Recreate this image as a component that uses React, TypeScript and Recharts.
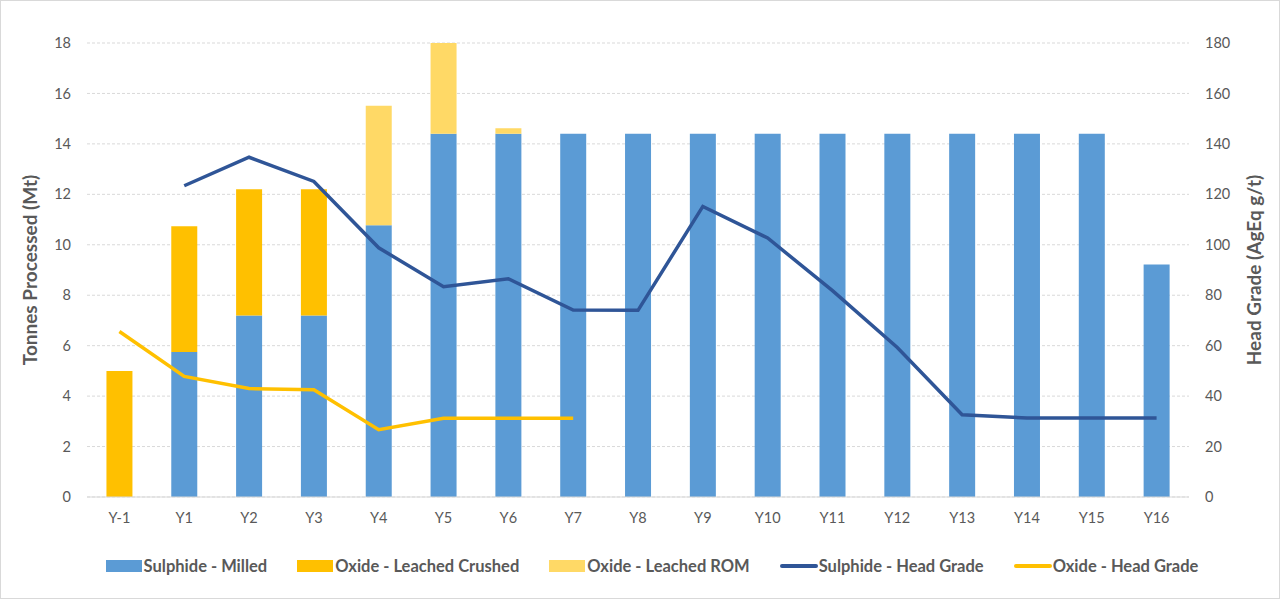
import React from "react";
import {
  ComposedChart,
  Bar,
  Line,
  XAxis,
  YAxis,
  CartesianGrid,
  Legend,
} from "recharts";

const years = ["Y-1", "Y1", "Y2", "Y3", "Y4", "Y5", "Y6", "Y7", "Y8", "Y9", "Y10", "Y11", "Y12", "Y13", "Y14", "Y15", "Y16"];
const sulphideMilled = [0, 5.75, 7.2, 7.2, 10.77, 14.4, 14.4, 14.4, 14.4, 14.4, 14.4, 14.4, 14.4, 14.4, 14.4, 14.4, 9.22];
const oxideCrushed = [5.0, 4.98, 5.0, 5.0, 0, 0, 0, 0, 0, 0, 0, 0, 0, 0, 0, 0, 0];
const oxideROM = [0, 0, 0, 0, 4.74, 3.6, 0.22, 0, 0, 0, 0, 0, 0, 0, 0, 0, 0];
const sulphideGrade = [null, 123.4, 134.7, 125.1, 98.8, 83.4, 86.5, 74.1, 74.0, 115.2, 102.7, 81.8, 59.3, 32.6, 31.3, 31.3, 31.3];
const oxideGrade = [65.6, 47.8, 43.0, 42.5, 26.7, 31.2, 31.2, 31.2, null, null, null, null, null, null, null, null, null];
const leftTicks = [0, 2, 4, 6, 8, 10, 12, 14, 16, 18];
const rightTicks = [0, 20, 40, 60, 80, 100, 120, 140, 160, 180];

const data = years.map((y, i) => ({
  year: y,
  sulphide: sulphideMilled[i],
  crushed: oxideCrushed[i],
  rom: oxideROM[i],
  sGrade: sulphideGrade[i],
  oGrade: oxideGrade[i],
}));

const TEXT = "#595959";
const FONT = "Lato, 'Open Sans', sans-serif";

const legendItems = [
  { label: "Sulphide - Milled", color: "#5B9BD5", type: "rect" },
  { label: "Oxide - Leached Crushed", color: "#FFC000", type: "rect" },
  { label: "Oxide - Leached ROM", color: "#FFD966", type: "rect" },
  { label: "Sulphide - Head Grade", color: "#2F5597", type: "line" },
  { label: "Oxide - Head Grade", color: "#FFC000", type: "line" },
];

const renderLegend = () => (
  <div
    style={{
      display: "flex",
      justifyContent: "center",
      alignItems: "center",
      gap: 30,
      height: 24,
      paddingLeft: 24,
      fontFamily: FONT,
      fontSize: 16.5,
      fontWeight: 700,
      color: TEXT,
    }}
  >
    {legendItems.map((it) => (
      <div key={it.label} style={{ display: "flex", alignItems: "center" }}>
        {it.type === "rect" ? (
          <div style={{ width: 36, height: 12, background: it.color, marginRight: 2 }} />
        ) : (
          <div style={{ width: 38, height: 4, background: it.color, marginRight: 1, borderRadius: 2 }} />
        )}
        <span>{it.label}</span>
      </div>
    ))}
  </div>
);

export default function App() {
  return (
    <div
      style={{
        position: "absolute",
        left: 0,
        top: 0,
        width: 1280,
        height: 599,
        boxSizing: "border-box",
        border: "1px solid #d9d9d9",
        background: "#fff",
        fontFamily: FONT,
      }}
    >
      <ComposedChart
        width={1278}
        height={597}
        data={data}
        margin={{ top: 42, right: 0, bottom: 20, left: 0 }}
        barCategoryGap="30%"
      >
        <CartesianGrid vertical={false} stroke="#d9d9d9" strokeDasharray="3 2" yAxisId="left" />
        <XAxis
          dataKey="year"
          height={57}
          tickLine={false}
          axisLine={{ stroke: "#d9d9d9" }}
          tick={{ fill: TEXT, fontSize: 14.5, fontFamily: FONT }}
          tickMargin={10}
          interval={0}
        />
        <YAxis
          yAxisId="left"
          orientation="left"
          width={86}
          domain={[0, 18]}
          ticks={leftTicks}
          tickLine={false}
          axisLine={false}
          tick={{ fill: TEXT, fontSize: 14.5, fontFamily: FONT }}
          tickMargin={10}
          label={{
            value: "Tonnes Processed (Mt)",
            angle: -90,
            position: "insideLeft",
            offset: 29,
            style: { fill: TEXT, fontSize: 19, fontWeight: 700, fontFamily: FONT, textAnchor: "middle" },
          }}
        />
        <YAxis
          yAxisId="right"
          orientation="right"
          width={90}
          domain={[0, 180]}
          ticks={rightTicks}
          tickLine={false}
          axisLine={false}
          tick={{ fill: TEXT, fontSize: 14.5, fontFamily: FONT }}
          tickMargin={10}
          label={{
            value: "Head Grade (AgEq g/t)",
            angle: -90,
            position: "insideRight",
            offset: 25,
            style: { fill: TEXT, fontSize: 19, fontWeight: 700, fontFamily: FONT, textAnchor: "middle" },
          }}
        />
        <Legend verticalAlign="bottom" content={renderLegend} />
        <Bar yAxisId="left" dataKey="sulphide" stackId="a" fill="#5B9BD5" isAnimationActive={false} />
        <Bar yAxisId="left" dataKey="crushed" stackId="a" fill="#FFC000" isAnimationActive={false} />
        <Bar yAxisId="left" dataKey="rom" stackId="a" fill="#FFD966" isAnimationActive={false} />
        <Line
          yAxisId="right"
          dataKey="sGrade"
          stroke="#2F5597"
          strokeWidth={3.5}
          dot={false}
          type="linear"
          isAnimationActive={false}
        />
        <Line
          yAxisId="right"
          dataKey="oGrade"
          stroke="#FFC000"
          strokeWidth={3.5}
          dot={false}
          type="linear"
          isAnimationActive={false}
        />
      </ComposedChart>
    </div>
  );
}
